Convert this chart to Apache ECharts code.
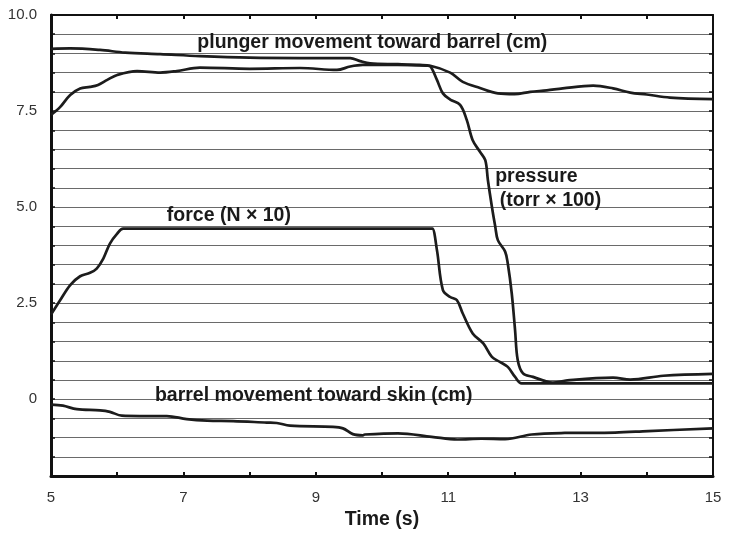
<!DOCTYPE html>
<html>
<head>
<meta charset="utf-8">
<script src="https://cdn.jsdelivr.net/npm/echarts@6/dist/echarts.min.js"></script>
<style>
html,body{margin:0;padding:0;background:#fff;}
#chart{width:731px;height:538px;}
</style>
</head>
<body>
<div id="chart"></div>
<script>
// Time (s) vs value pairs
var plunger = [[5.0,9.12],[5.29,9.13],[5.74,9.09],[6.12,9.02],[6.65,8.98],[7.25,8.93],[8.0,8.89],[8.76,8.88],[9.52,8.88],[9.67,8.80],[9.82,8.74],[10.24,8.72],[10.57,8.70],[10.73,8.68],[11.03,8.50],[11.22,8.26],[11.48,8.10],[11.75,7.96],[12.0,7.94],[12.24,8.00],[12.49,8.04],[12.73,8.09],[13.19,8.16],[13.49,8.09],[13.75,7.98],[14.0,7.93],[14.35,7.85],[15.0,7.81]];
var pressure = [[5.0,7.40],[5.14,7.61],[5.29,7.92],[5.44,8.09],[5.59,8.13],[5.71,8.18],[5.85,8.31],[6.0,8.44],[6.30,8.54],[6.65,8.50],[6.90,8.54],[7.25,8.63],[8.0,8.60],[8.76,8.62],[9.32,8.57],[9.52,8.66],[9.71,8.70],[10.24,8.70],[10.68,8.68],[10.73,8.66],[10.83,8.31],[10.92,7.96],[11.03,7.80],[11.18,7.66],[11.28,7.27],[11.37,6.74],[11.48,6.44],[11.56,6.22],[11.60,5.70],[11.66,5.01],[11.71,4.50],[11.75,4.14],[11.86,3.84],[11.90,3.53],[11.96,2.75],[12.01,1.80],[12.05,1.02],[12.13,0.67],[12.28,0.58],[12.43,0.49],[12.58,0.43],[12.8,0.49],[13.49,0.56],[13.75,0.51],[14.25,0.61],[15.0,0.66]];
var force = [[5.0,2.20],[5.14,2.58],[5.29,2.97],[5.44,3.20],[5.59,3.29],[5.69,3.40],[5.79,3.66],[5.89,4.05],[6.0,4.31],[6.09,4.44],[10.73,4.44],[10.76,4.44],[10.83,3.88],[10.92,2.84],[11.03,2.66],[11.13,2.58],[11.22,2.23],[11.37,1.71],[11.53,1.45],[11.66,1.10],[11.78,0.97],[11.90,0.84],[12.01,0.58],[12.11,0.41],[15.0,0.41]];
var barrel = [[5.0,-0.14],[5.18,-0.17],[5.39,-0.26],[5.74,-0.29],[5.89,-0.33],[6.07,-0.43],[6.34,-0.44],[6.75,-0.44],[7.05,-0.52],[7.36,-0.56],[7.75,-0.57],[8.26,-0.61],[8.41,-0.62],[8.61,-0.69],[9.26,-0.72],[9.41,-0.76],[9.56,-0.91],[9.71,-0.94],[9.74,-0.92],[10.24,-0.89],[10.75,-0.98],[11.14,-1.05],[11.5,-1.03],[11.86,-1.04],[12.26,-0.92],[12.76,-0.88],[13.52,-0.87],[14.02,-0.83],[15.0,-0.76]];
var seriesNames = ['plunger', 'pressure', 'force', 'barrel'];
var xTickLabels = [5, 7, 9, 11, 13, 15];
var yTickLabels = [0, 2.5, 5, 7.5, 10];
// annotation texts, anchored (left, middle) at data coordinates
var labelTexts = ['plunger movement toward barrel (cm)', 'force (N \u00d7 10)', 'pressure', '(torr \u00d7 100)', 'barrel movement toward skin (cm)'];
var labelAnchors = [[7.21,9.27],[6.75,4.79],[11.71,5.78],[11.78,5.18],[6.57,0.08]];

var FONT = '"Liberation Sans", Arial, sans-serif';
var chart = echarts.init(document.getElementById('chart'), null, {renderer:'canvas'});
var lineStyle = {color:'#1c1c1c', width:2.7};
function mk(name, data){
  return {name:name, type:'line', data:data, showSymbol:false, smooth:0.35, lineStyle:lineStyle, itemStyle:{color:'#1c1c1c'}, silent:true, z:3};
}
var axisLineBold = {show:true, onZero:false, lineStyle:{color:'#111', width:3}};
var axisLineThin = {show:true, onZero:false, lineStyle:{color:'#111', width:2}};
chart.setOption({
  animation:false,
  backgroundColor:'#fff',
  grid:{left:51, right:18, top:15, bottom:62},
  xAxis:[{
    type:'value', min:5, max:15, interval:1, position:'bottom',
    axisLine:axisLineBold,
    axisTick:{show:true, inside:true, length:4, lineStyle:{color:'#111', width:2}},
    axisLabel:{margin:14, color:'#333', fontSize:15, fontFamily:FONT,
      formatter:function(v){ return xTickLabels.indexOf(Math.round(v*100)/100) >= 0 ? String(v) : ''; }},
    splitLine:{show:false},
    name:'Time (s)', nameLocation:'middle', nameGap:34,
    nameTextStyle:{fontSize:19.5, fontWeight:'bold', color:'#1a1a1a', fontFamily:FONT}
  },{
    type:'value', min:5, max:15, interval:1, position:'top',
    axisLine:axisLineThin,
    axisTick:{show:true, inside:true, length:4, lineStyle:{color:'#111', width:2}},
    axisLabel:{show:false}, splitLine:{show:false}
  }],
  yAxis:[{
    type:'value', min:-2, max:10, interval:0.5, position:'left',
    axisLine:axisLineBold,
    axisTick:{show:true, inside:true, length:4, lineStyle:{color:'#111', width:1.5}},
    axisLabel:{margin:14, color:'#333', fontSize:15, fontFamily:FONT,
      formatter:function(v){
        var r = Math.round(v*100)/100;
        if (yTickLabels.indexOf(r) < 0) return '';
        return r === 0 ? '0' : r.toFixed(1);
      }},
    splitLine:{show:true, lineStyle:{color:'#6a6a6a', width:1}}
  },{
    type:'value', min:-2, max:10, interval:0.5, position:'right',
    axisLine:axisLineThin,
    axisTick:{show:true, inside:true, length:4, lineStyle:{color:'#111', width:1.5}},
    axisLabel:{show:false}, splitLine:{show:false}
  }],
  series:[mk(seriesNames[0], plunger), mk(seriesNames[1], pressure), mk(seriesNames[2], force), mk(seriesNames[3], barrel)]
});
var g = [];
for (var i = 0; i < labelTexts.length; i++) {
  var p = chart.convertToPixel({xAxisIndex:0, yAxisIndex:0}, labelAnchors[i]);
  g.push({type:'text', x:p[0], y:p[1], z:10, silent:true,
    style:{text:labelTexts[i], fill:'#1a1a1a', font:'bold 19.5px ' + FONT, textAlign:'left', textVerticalAlign:'middle'}});
}
chart.setOption({graphic:g});
</script>
</body>
</html>
